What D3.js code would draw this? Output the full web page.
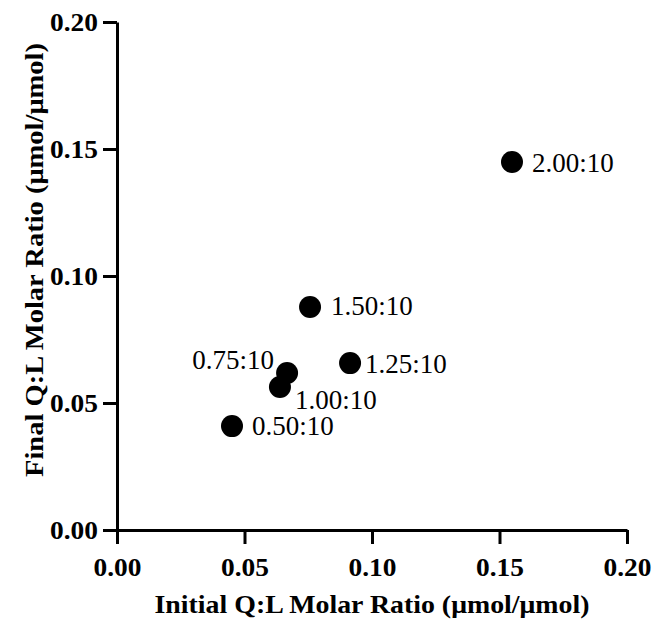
<!DOCTYPE html>
<html>
<head>
<meta charset="utf-8">
<script src="https://cdn.jsdelivr.net/npm/d3@7"></script>
<style>
  body { margin: 0; background: #fff; }
  svg { display: block; font-family: "Liberation Serif", "Times New Roman", serif; }
</style>
</head>
<body>
<svg id="chart" width="655" height="623"></svg>
<script>
// data
const labels = ["2.00:10", "1.50:10", "1.25:10", "0.75:10", "1.00:10", "0.50:10"];
const initialRatio = [0.1549, 0.0757, 0.0914, 0.0667, 0.0639, 0.0451];
const finalRatio = [0.1449, 0.0878, 0.0657, 0.0618, 0.0563, 0.0409];
const tickValues = [0, 0.05, 0.1, 0.15, 0.2];

const points = labels.map((l, i) => ({ label: l, x: initialRatio[i], y: finalRatio[i] }));

// label placement: [dx, dy, anchor]
const labelPos = {
  "2.00:10": [20, 10, "start"],
  "1.50:10": [21, 8, "start"],
  "1.25:10": [15, 10, "start"],
  "0.75:10": [-13, -4, "end"],
  "1.00:10": [15, 22, "start"],
  "0.50:10": [20, 9, "start"],
};

const svg = d3.select("#chart");
const margin = { top: 22, right: 28, bottom: 93, left: 117 };
const width = 655;
const height = 623;

const x = d3.scaleLinear().domain([0, 0.2]).range([margin.left, width - margin.right]);
const y = d3.scaleLinear().domain([0, 0.2]).range([height - margin.bottom, margin.top]);

const fmt = d3.format(".2f");

const xAxis = svg
  .append("g")
  .attr("transform", `translate(0, ${y(0)})`)
  .call(d3.axisBottom(x).tickValues(tickValues).tickFormat(fmt).tickSize(14).tickSizeOuter(0));

const yAxis = svg
  .append("g")
  .attr("transform", `translate(${x(0)}, 0)`)
  .call(d3.axisLeft(y).tickValues(tickValues).tickFormat(fmt).tickSize(14).tickSizeOuter(0));

[xAxis, yAxis].forEach((g) => {
  g.attr("font-family", null).attr("font-size", null);
  g.selectAll("path, line").attr("stroke", "#000").attr("stroke-width", 3);
  g.selectAll("text")
    .attr("font-size", "25px")
    .attr("font-weight", "bold")
    .attr("fill", "#000")
    .attr("textLength", 48)
    .attr("lengthAdjust", "spacingAndGlyphs");
});
xAxis.selectAll("text").attr("y", 46).attr("dy", null);
yAxis.selectAll("text").attr("x", -19).attr("dy", "0.33em");

// axis titles
svg
  .append("text")
  .attr("x", (x(0) + x(0.2)) / 2 - 0)
  .attr("y", 613)
  .attr("text-anchor", "middle")
  .attr("font-size", "26px")
  .attr("font-weight", "bold")
  .attr("textLength", 435)
  .attr("lengthAdjust", "spacingAndGlyphs")
  .text("Initial Q:L Molar Ratio (μmol/μmol)");

svg
  .append("text")
  .attr("transform", `translate(43, 260) rotate(-90)`)
  .attr("text-anchor", "middle")
  .attr("font-size", "26px")
  .attr("font-weight", "bold")
  .attr("textLength", 434)
  .attr("lengthAdjust", "spacingAndGlyphs")
  .text("Final Q:L Molar Ratio (μmol/μmol)");

// points
svg
  .selectAll("circle.pt")
  .data(points)
  .enter()
  .append("circle")
  .attr("class", "pt")
  .attr("cx", (d) => x(d.x))
  .attr("cy", (d) => y(d.y))
  .attr("r", 11)
  .attr("fill", "#000");

svg
  .selectAll("text.pt-label")
  .data(points)
  .enter()
  .append("text")
  .attr("class", "pt-label")
  .attr("x", (d) => x(d.x) + labelPos[d.label][0])
  .attr("y", (d) => y(d.y) + labelPos[d.label][1])
  .attr("text-anchor", (d) => labelPos[d.label][2])
  .attr("font-size", "27px")
  .attr("fill", "#000")
  .text((d) => d.label);
</script>
</body>
</html>
